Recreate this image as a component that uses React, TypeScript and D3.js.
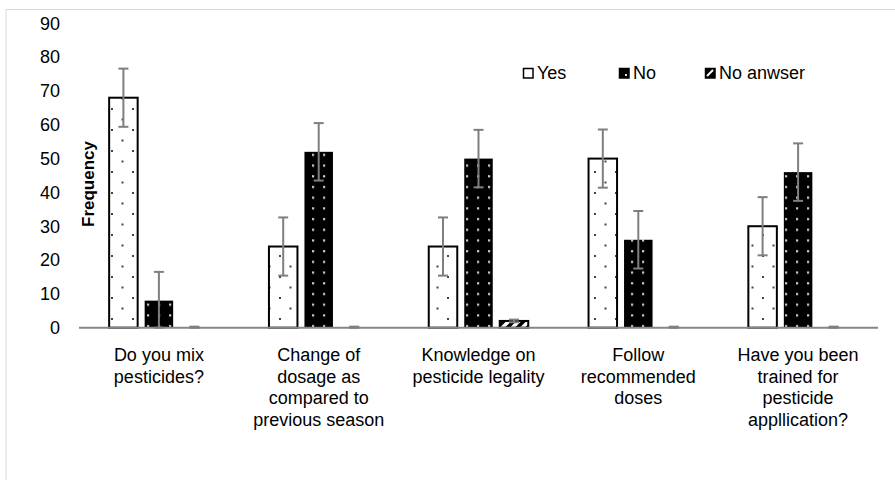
import * as React from "react";
import * as d3 from "d3";

// values
const categories = [
  ["Do you mix", "pesticides?"],
  ["Change of", "dosage as", "compared to", "previous season"],
  ["Knowledge on", "pesticide legality"],
  ["Follow", "recommended", "doses"],
  ["Have you been", "trained for", "pesticide", "appllication?"],
];
const seriesNames = ["Yes", "No", "No anwser"];
const yesValues = [68, 24, 24, 50, 30];
const noValues = [8, 52, 50, 26, 46];
const noAnswerValues = [0, 0, 2, 0, 0];
const yesErrors = [8.6, 8.6, 8.6, 8.6, 8.6];
const noErrors = [8.5, 8.5, 8.5, 8.5, 8.5];
const noAnswerErrors = [0.3, 0.3, 0.4, 0.3, 0.3];
const yTicks = [0, 10, 20, 30, 40, 50, 60, 70, 80, 90];

const width = 895;
const height = 480;
const font = "'Liberation Sans', Arial, sans-serif";

function App() {
  const catKeys = categories.map((c) => c.join(" "));
  const values = [yesValues, noValues, noAnswerValues];
  const errors = [yesErrors, noErrors, noAnswerErrors];
  const fills = ["url(#patYes)", "url(#patNo)", "url(#patNa)"];

  const xScale = d3.scaleBand<string>().domain(catKeys).range([79, 878]);
  const xSub = d3
    .scaleBand<string>()
    .domain(seriesNames)
    .range([-49.75, 49.75])
    .paddingInner(0.197);
  const yScale = d3.scaleLinear().domain([0, 90]).range([327.7, 23.3]);

  const legendX = [523, 619, 705];

  return (
    <div style={{ position: "absolute", left: 0, top: 0 }}>
      <svg width={width} height={height} fontFamily={font}>
        <defs>
          <pattern id="patYes" patternUnits="userSpaceOnUse" width={21} height={21}>
            <rect width={21} height={21} fill="#fff" />
            <rect x={6} y={3} width={2} height={2} fill="#444" />
            <rect x={16.5} y={13.5} width={2} height={2} fill="#444" />
          </pattern>
          <pattern id="patNo" patternUnits="userSpaceOnUse" width={11} height={10.7}>
            <rect width={11} height={10.7} fill="#000" />
            <rect x={4} y={4} width={2.2} height={2.2} fill="#ccc" />
          </pattern>
          <pattern id="patNa" patternUnits="userSpaceOnUse" width={10} height={10}>
            <rect width={10} height={10} fill="#fff" />
            <path d="M-2.5,7.5 L7.5,-2.5 M2.5,12.5 L12.5,2.5" stroke="#000" strokeWidth={3.5} />
          </pattern>
        </defs>

        {/* chart border */}
        <rect x={6} y={9.5} width={width + 10} height={height + 10} fill="#fff" stroke="#d9d9d9" strokeWidth={1} />

        {/* y tick labels */}
        <g fontSize={18} textAnchor="end" fill="#000">
          {yTicks.map((t) => (
            <text key={t} x={60} y={yScale(t)} dy="0.35em">
              {t}
            </text>
          ))}
        </g>

        <text
          transform={`translate(94, 184) rotate(-90)`}
          textAnchor="middle"
          fontSize={17}
          fontWeight="bold"
        >
          Frequency
        </text>

        {/* bars */}
        {seriesNames.map((s, si) => (
          <g key={s}>
            {catKeys.map((c, ci) => {
              const x = (xScale(c) ?? 0) + xScale.bandwidth() / 2 + (xSub(s) ?? 0);
              const v = values[si][ci];
              const y = yScale(v);
              const h = yScale(0) - y;
              return (
                <g key={c}>
                  {h > 0 && (
                    <rect
                      x={x}
                      y={y}
                      width={xSub.bandwidth()}
                      height={h}
                      fill={fills[si]}
                      stroke={si === 1 ? "none" : "#000"}
                      strokeWidth={si === 1 ? 0 : 2}
                    />
                  )}
                </g>
              );
            })}
          </g>
        ))}

        {/* x axis */}
        <line x1={79} x2={878} y1={yScale(0)} y2={yScale(0)} stroke="#868686" strokeWidth={2} />

        {/* error bars */}
        {seriesNames.map((s, si) => (
          <g key={s} stroke="#7f7f7f" strokeWidth={2}>
            {catKeys.map((c, ci) => {
              const cx = (xScale(c) ?? 0) + xScale.bandwidth() / 2 + (xSub(s) ?? 0) + xSub.bandwidth() / 2;
              const v = values[si][ci];
              const e = errors[si][ci];
              const y1 = yScale(v + e);
              const y2 = yScale(Math.max(0, v - e));
              return (
                <g key={c}>
                  <line x1={cx} x2={cx} y1={y1} y2={y2} />
                  <line x1={cx - 5} x2={cx + 5} y1={y1} y2={y1} />
                  <line x1={cx - 5} x2={cx + 5} y1={y2} y2={y2} />
                </g>
              );
            })}
          </g>
        ))}

        {/* category labels */}
        <g fontSize={18} textAnchor="middle" fill="#000">
          {categories.map((lines, ci) => (
            <text key={ci} x={(xScale(catKeys[ci]) ?? 0) + xScale.bandwidth() / 2} y={361}>
              {lines.map((l, li) => (
                <tspan key={li} x={(xScale(catKeys[ci]) ?? 0) + xScale.bandwidth() / 2} dy={li === 0 ? 0 : 21.7}>
                  {l}
                </tspan>
              ))}
            </text>
          ))}
        </g>

        {/* legend */}
        <g fontSize={18}>
          {seriesNames.map((s, si) => (
            <g key={s} transform={`translate(${legendX[si]}, 68)`}>
              <rect
                x={0.5}
                y={0.5}
                width={9.5}
                height={9.5}
                fill={si === 0 ? "#fff" : "#000"}
                stroke="#000"
                strokeWidth={1.5}
              />
              {si === 1 && <rect x={6} y={6} width={2} height={2} fill="#ddd" />}
              {si === 2 && <path d="M2,8 L8,2" stroke="#fff" strokeWidth={2} />}
              <text x={14} y={5} dy="0.35em">
                {s}
              </text>
            </g>
          ))}
        </g>
      </svg>
    </div>
  );
}

export default App;
